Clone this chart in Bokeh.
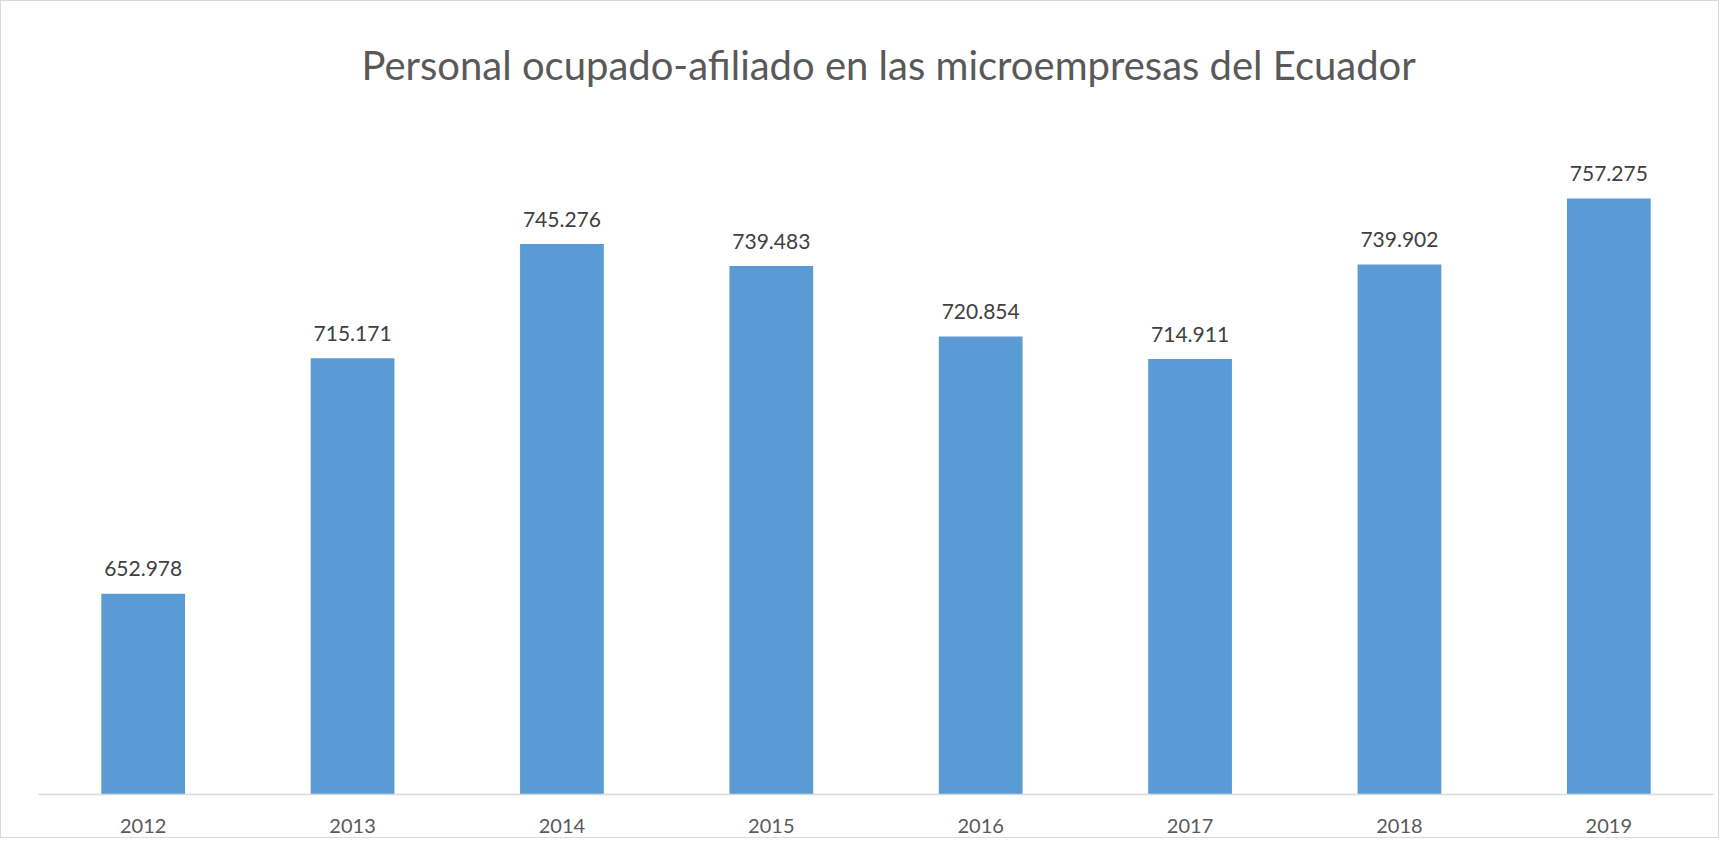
from bokeh.plotting import figure
from bokeh.models import ColumnDataSource, LabelSet, Title, FactorRange, Range1d
from bokeh.core.properties import value
from bokeh.embed import file_html
from bokeh.resources import INLINE

years = ["2012", "2013", "2014", "2015", "2016", "2017", "2018", "2019"]
values = [652978, 715171, 745276, 739483, 720854, 714911, 739902, 757275]
labels = [f"{v:,}".replace(",", ".") for v in values]
title_text = "Personal ocupado-afiliado en las microempresas del Ecuador"

FONT = "Lato"
Y_MIN, Y_MAX = 600000, 780000

src = ColumnDataSource(dict(x=years, top=values, label=labels))

p = figure(x_range=FactorRange(*years, range_padding=0), y_range=Range1d(Y_MIN, Y_MAX),
           frame_width=1675, frame_height=682,
           min_border_left=37, min_border_right=5, min_border_top=111, min_border_bottom=43,
           output_backend="svg", toolbar_location=None)
p.styles = {"border": "1px solid #d9d9d9"}

p.vbar(x="x", top="top", bottom=Y_MIN, width=0.4, source=src,
       fill_color="#5B9BD5", line_color=None)

p.add_layout(LabelSet(x="x", y="top", text="label", source=src, y_offset=25,
                      text_align="center", text_baseline="middle",
                      text_font=value(FONT), text_font_size=value("21px"),
                      text_color="#404040"))

p.title = Title(text=title_text, align="left", text_font=FONT,
                text_font_size="40px", text_color="#595959",
                text_font_style="normal", standoff=48, offset=323)

p.yaxis.visible = False
p.xgrid.grid_line_color = None
p.ygrid.grid_line_color = None
p.outline_line_color = None
p.xaxis.axis_line_color = "#d9d9d9"
p.xaxis.axis_line_width = 1.5
p.xaxis.major_tick_line_color = None
p.xaxis.minor_tick_line_color = None
p.xaxis.major_label_standoff = 18
p.xaxis.major_label_text_font = FONT
p.xaxis.major_label_text_font_size = "20px"
p.xaxis.major_label_text_color = "#595959"

open("out.html", "w").write(file_html(p, INLINE))
